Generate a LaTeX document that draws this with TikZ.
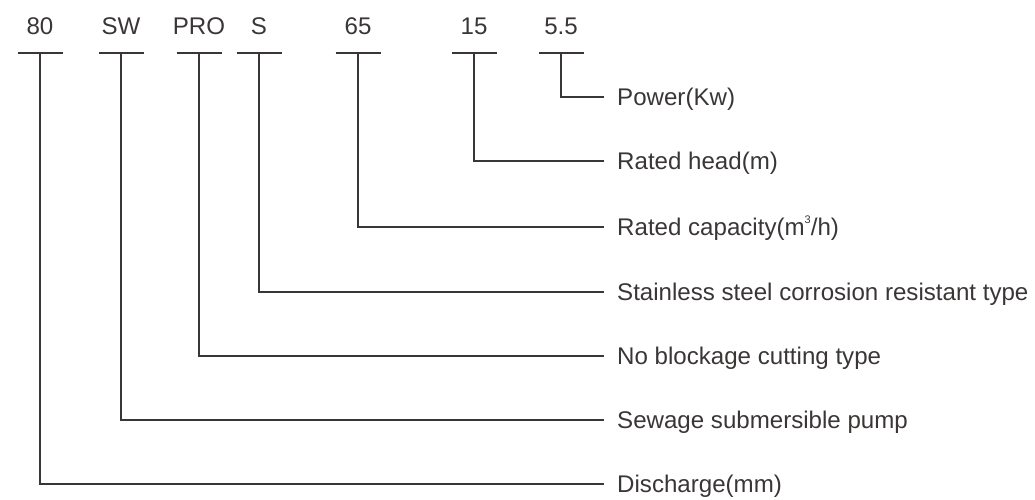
\documentclass[tikz,border=0pt]{standalone}
\usepackage{fontspec}
\setmainfont{Liberation Sans}
\definecolor{ink}{HTML}{3A3636}
\newcommand{\cubesup}{\raisebox{0.5em}{\fontsize{11}{11}\selectfont 3}}
\begin{document}
\begin{tikzpicture}[x=1pt,y=-1pt,
  lbl/.style={inner sep=0pt,text=ink,font=\fontsize{24.1}{28}\selectfont},
  toplbl/.style={lbl,anchor=base},
  desc/.style={lbl,anchor=base west},
  wire/.style={draw=ink,line width=1.1pt},
  bar/.style={draw=ink,line width=1.1pt}]
\useasboundingbox (0,0) rectangle (1035,500);
% top labels
\node[toplbl] (t80) at (40,35) {80};
\node[toplbl] (tsw) at (121,35) {SW};
\node[toplbl] (tpro) at (199,35) {PRO};
\node[toplbl] (ts) at (259,35) {S};
\node[toplbl] (t65) at (358,35) {65};
\node[toplbl] (t15) at (474,35) {15};
\node[toplbl] (t55) at (561,35) {5.5};
% bar points
\foreach \n/\x in {80/40,sw/121,pro/199,s/259,65/358,15/474,55/561}{
  \coordinate (b\n) at (\x,53);
  \draw[bar] ([xshift=-22.5pt]b\n) -- ([xshift=22.5pt]b\n);
}
% right ends and descriptions
\foreach \n/\y/\t in {55/97/{Power(Kw)},15/161/{Rated head(m)},65/227/{Rated capacity(m\cubesup/h)},s/292/{Stainless steel corrosion resistant type},pro/356/{No blockage cutting type},sw/420/{Sewage submersible pump},80/484/{Discharge(mm)}}{
  \coordinate (e\n) at (604,\y);
  \node[desc] (d\n) at (617,\y+8.5) {\t};
  \draw[wire] (b\n) |- (e\n);
}
\end{tikzpicture}
\end{document}
